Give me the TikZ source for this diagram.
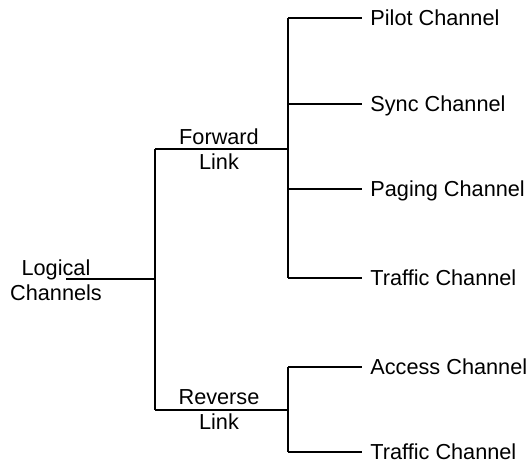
\documentclass[tikz,border=0pt]{standalone}
\usepackage{fontspec}
\setmainfont{Liberation Sans}
\begin{document}
\begin{tikzpicture}[x=0.5pt,y=-0.5pt,
  conn/.style={draw=black,line width=0.8pt},
  lab/.style={font=\fontsize{10.85}{12.5}\selectfont,inner sep=0pt,align=center},
  chan/.style={font=\fontsize{10.85}{12.5}\selectfont,anchor=west,inner ysep=0pt,inner xsep=4pt,text height=1.4ex,text depth=0pt}]
\path[use as bounding box] (0,0) rectangle (530,465);
\node[lab] (log) at (56,280) {Logical\\Channels};
\node[lab] (fwd) at (219,149) {Forward\\Link};
\node[lab] (rev) at (219,410) {Reverse\\Link};
\node[chan] (pilot) at (362,18) {Pilot Channel};
\node[chan] (sync) at (362,104) {Sync Channel};
\node[chan] (paging) at (362,189) {Paging Channel};
\node[chan] (traf1) at (362,278) {Traffic Channel};
\node[chan] (access) at (362,367) {Access Channel};
\node[chan] (traf2) at (362,452) {Traffic Channel};
\coordinate (a) at (66,279);
\coordinate (b) at (155,279);
\coordinate (bf) at (155,149);
\coordinate (br) at (155,410);
\coordinate (cf) at (288,149);
\coordinate (cr) at (288,410);
\draw[conn] (a) -- (b);
\draw[conn] (bf) -- (br);
\draw[conn] (bf) -- (cf);
\draw[conn] (br) -- (cr);
\draw[conn] (pilot.west -| cf) -- (traf1.west -| cf);
\draw[conn] (access.west -| cr) -- (traf2.west -| cr);
\draw[conn] (pilot.west -| cf) -- (pilot.west);
\draw[conn] (sync.west -| cf) -- (sync.west);
\draw[conn] (paging.west -| cf) -- (paging.west);
\draw[conn] (traf1.west -| cf) -- (traf1.west);
\draw[conn] (access.west -| cr) -- (access.west);
\draw[conn] (traf2.west -| cr) -- (traf2.west);
\end{tikzpicture}
\end{document}
